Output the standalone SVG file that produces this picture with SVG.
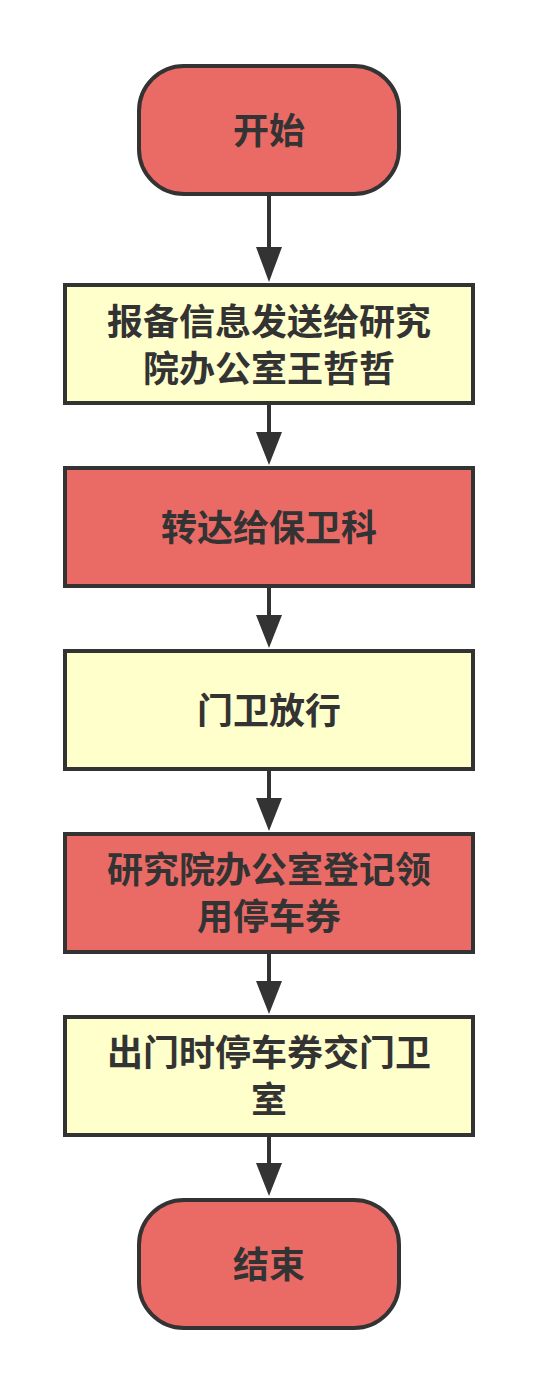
<svg xmlns="http://www.w3.org/2000/svg" width="538" height="1394" viewBox="0 0 538 1394">
<style>
.red{fill:#EA6B66;stroke:#333333;stroke-width:4}
.yel{fill:#FFFFCC;stroke:#333333;stroke-width:4}
text{font-family:"Noto Sans CJK SC","Noto Sans",sans-serif;font-weight:bold;font-size:36px;fill:#333333;text-anchor:middle}
.ln{stroke:#333333;stroke-width:4;fill:none}
.ah{fill:#333333}
</style>
<rect width="538" height="1394" fill="#ffffff"/>
<g id="connectors">
<line class="ln" x1="269" y1="196" x2="269" y2="250"/>
<polygon class="ah" points="256,247 282,247 269,282"/>
<line class="ln" x1="269" y1="405" x2="269" y2="436"/>
<polygon class="ah" points="256,432 282,432 269,465"/>
<line class="ln" x1="269" y1="588" x2="269" y2="619"/>
<polygon class="ah" points="256,615 282,615 269,648"/>
<line class="ln" x1="269" y1="771" x2="269" y2="802"/>
<polygon class="ah" points="256,798 282,798 269,831"/>
<line class="ln" x1="269" y1="954" x2="269" y2="985"/>
<polygon class="ah" points="256,981 282,981 269,1014"/>
<line class="ln" x1="269" y1="1137" x2="269" y2="1168"/>
<polygon class="ah" points="256,1163 282,1163 269,1196"/>
</g>
<g id="start">
<rect class="red" x="139" y="66" width="260" height="128" rx="45" ry="45"/>
<text x="269" y="144">开始</text>
</g>
<g id="step1">
<rect class="yel" x="65" y="285" width="408" height="118"/>
<text x="269" y="335">报备信息发送给研究</text>
<text x="269" y="382">院办公室王哲哲</text>
</g>
<g id="step2">
<rect class="red" x="65" y="468" width="408" height="118"/>
<text x="269" y="541">转达给保卫科</text>
</g>
<g id="step3">
<rect class="yel" x="65" y="651" width="408" height="118"/>
<text x="269" y="724">门卫放行</text>
</g>
<g id="step4">
<rect class="red" x="65" y="834" width="408" height="118"/>
<text x="269" y="883">研究院办公室登记领</text>
<text x="269" y="930">用停车券</text>
</g>
<g id="step5">
<rect class="yel" x="65" y="1017" width="408" height="118"/>
<text x="269" y="1066">出门时停车券交门卫</text>
<text x="269" y="1113">室</text>
</g>
<g id="end">
<rect class="red" x="139" y="1200" width="260" height="128" rx="45" ry="45"/>
<text x="269" y="1278">结束</text>
</g>
</svg>
